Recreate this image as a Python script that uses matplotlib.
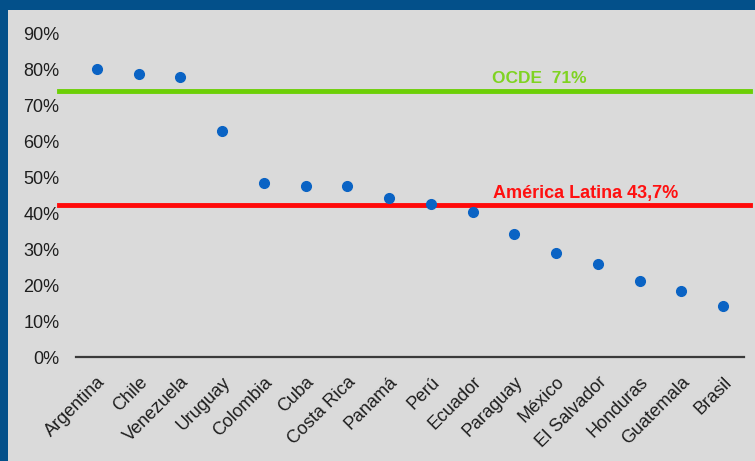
import numpy as np
import matplotlib.pyplot as plt
from matplotlib.patches import Rectangle

plt.rcParams['font.family'] = ['Liberation Sans', 'DejaVu Sans']

# Datos
paises = ['Argentina', 'Chile', 'Venezuela', 'Uruguay', 'Colombia', 'Cuba',
          'Costa Rica', 'Panamá', 'Perú', 'Ecuador', 'Paraguay', 'México',
          'El Salvador', 'Honduras', 'Guatemala', 'Brasil']
valores = [80.0, 78.6, 77.8, 62.8, 48.3, 47.5, 47.5, 44.2, 42.5, 40.3,
           34.2, 28.9, 25.8, 21.1, 18.3, 14.2]
nivel_ocde = 73.9
nivel_al = 42.2
texto_ocde = 'OCDE  71%'
texto_al = 'América Latina 43,7%'
yticks = [0, 10, 20, 30, 40, 50, 60, 70, 80, 90]

W, H = 755, 461
fig = plt.figure(figsize=(W / 100, H / 100), dpi=100, facecolor='#03508a')
# panel gris
fig.patches.append(Rectangle((8 / W, 0), 1 - 8 / W, 1 - 10 / H,
                             transform=fig.transFigure, facecolor='#dadada',
                             edgecolor='none', zorder=-10))

x0, x1 = 76, 744
y0, y1 = 357, 33
ax = fig.add_axes([x0 / W, 1 - y0 / H, (x1 - x0) / W, (y0 - y1) / H])
ax.set_facecolor('none')

x = np.arange(len(paises))
ax.plot(x, valores, 'o', color='#0a63c4', markersize=7, zorder=3)

# líneas de referencia (se salen del eje por la izquierda y la derecha)
xl = [-0.9, 15.65]
ax.plot(xl, [nivel_ocde, nivel_ocde], color='#6ccf06', lw=3.5, clip_on=False, zorder=2)
ax.plot(xl, [nivel_al, nivel_al], color='#ff0a0a', lw=3.5, clip_on=False, zorder=2)
ax.text(10.6, nivel_ocde + 2.2, texto_ocde, color='#7fd322', fontsize=12.5,
        fontweight='bold', ha='center', va='baseline')
ax.text(11.7, nivel_al + 2.0, texto_al, color='#ff1010', fontsize=13,
        fontweight='bold', ha='center', va='baseline')

ax.set_xlim(-0.5, len(paises) - 0.5)
ax.set_ylim(0, 90)
ax.set_yticks(yticks)
ax.set_yticklabels([f'{v}%' for v in yticks], fontsize=13, color='#1e1e1e')
ax.set_xticks(x)
ax.set_xticklabels(paises, rotation=45, ha='right', rotation_mode='anchor',
                   fontsize=13, color='#1e1e1e')
ax.tick_params(axis='y', length=0, pad=12)
ax.tick_params(axis='x', length=0, pad=12)
for s in ['top', 'right', 'left']:
    ax.spines[s].set_visible(False)
ax.spines['bottom'].set_color('#3a3a3a')
ax.spines['bottom'].set_linewidth(1.6)

fig.savefig('out.png', dpi=100, facecolor=fig.get_facecolor())
